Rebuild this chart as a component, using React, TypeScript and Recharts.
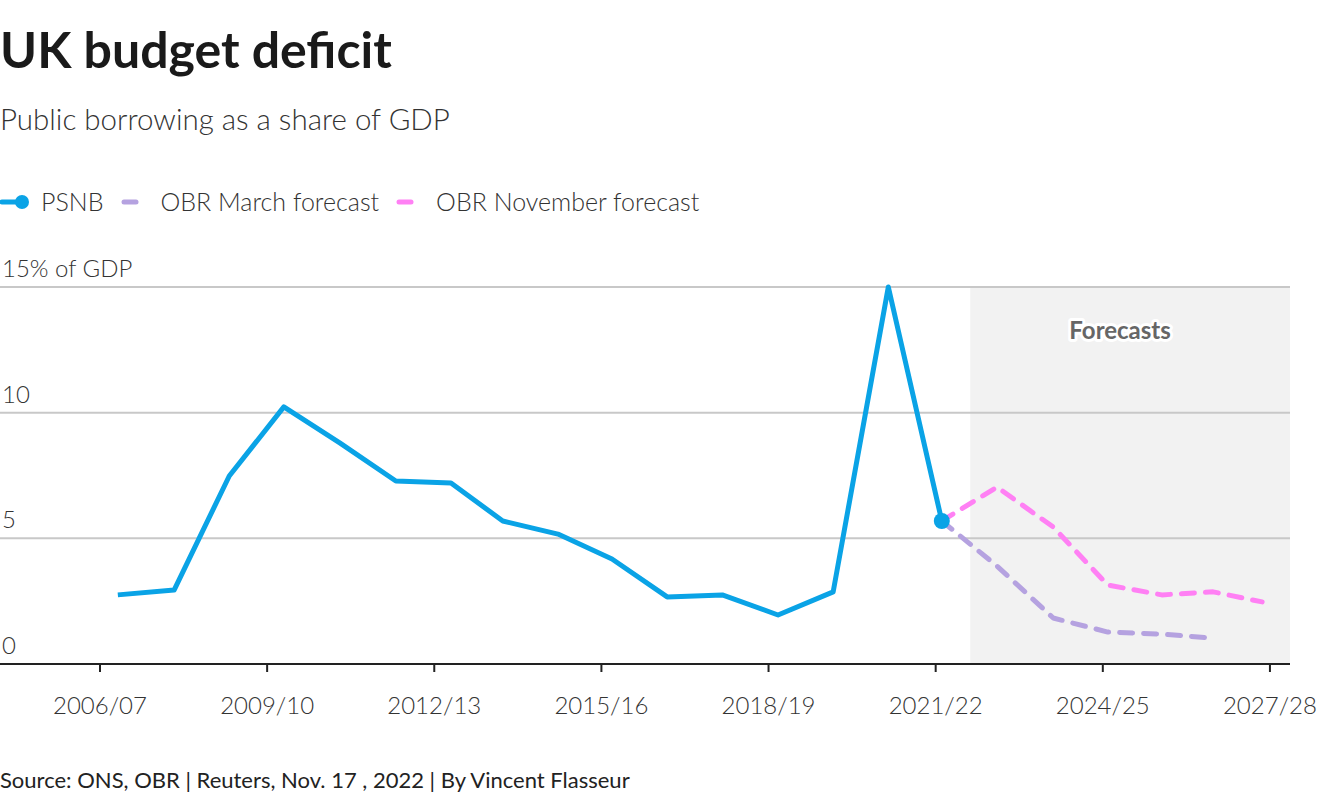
import React from 'react';
import { LineChart, Line, XAxis, YAxis, ReferenceArea, ReferenceLine } from 'recharts';

// x positions are fractional fiscal years (tick "2006/07" sits at 2006)
const psnbX = [2006.32, 2007.33, 2008.32, 2009.3, 2010.31, 2011.31, 2012.3, 2013.23, 2014.22, 2015.19, 2016.18, 2017.17, 2018.17, 2019.16, 2020.15, 2021.11];
const psnbValues = [2.75, 2.94, 7.48, 10.23, 8.79, 7.28, 7.2, 5.69, 5.17, 4.18, 2.67, 2.75, 1.95, 2.87, 15.0, 5.69];

const forecastX = [2021.11, 2022.1, 2023.11, 2024.09, 2025.06, 2025.98, 2026.86];
const marchValues = [5.69, 3.9, 1.83, 1.27, 1.19, 1.03];
const novemberValues = [5.69, 7.04, 5.45, 3.14, 2.75, 2.87, 2.47];

const tickYears = [2006, 2009, 2012, 2015, 2018, 2021, 2024, 2027];
const tickLabels = ['2006/07', '2009/10', '2012/13', '2015/16', '2018/19', '2021/22', '2024/25', '2027/28'];
const gridValues = [0, 5, 10, 15];
const gridLabels = ['0', '5', '10', '15% of GDP'];

const forecastStart = 2021.62;

const BLUE = '#0aa3e6';
const LAVENDER = '#b5a2e0';
const PINK = '#ff80f4';
const FONT = 'Lato, "Noto Sans", sans-serif';

const psnbData = psnbX.map((x, i) => ({ x, v: psnbValues[i] }));
const marchData = marchValues.map((v, i) => ({ x: forecastX[i], v }));
const novemberData = novemberValues.map((v, i) => ({ x: forecastX[i], v }));

const GridLabel = (props: any) => {
  const vb = props.viewBox;
  if (!vb) return null;
  return (
    <text x={2} y={vb.y - 10} fontSize={24} fill="#333" fontFamily={FONT} fontWeight={300}>
      {props.value}
    </text>
  );
};

const LastDot = (props: any) => {
  if (props.index !== psnbData.length - 1) return <g key={props.index} />;
  return <circle key={props.index} cx={props.cx} cy={props.cy} r={8} fill={BLUE} />;
};

const ForecastLabel = (props: any) => {
  const vb = props.viewBox;
  if (!vb) return null;
  return (
    <text
      x={vb.x + vb.width / 2 - 10}
      y={vb.y + 42}
      textAnchor="middle"
      dominantBaseline="central"
      fontSize={24}
      fontWeight={700}
      fill="#666"
      stroke="#fff"
      strokeWidth={6}
      strokeLinejoin="round"
      paintOrder="stroke"
      fontFamily={FONT}
    >
      Forecasts
    </text>
  );
};

const Swatch = ({ color }: { color: string }) => (
  <svg width={18} height={10} style={{ marginRight: 22 }}>
    <line x1={3} y1={5} x2={15} y2={5} stroke={color} strokeWidth={5} strokeLinecap="round" />
  </svg>
);

export default function App() {
  return (
    <div style={{ position: 'absolute', top: 0, left: 0, width: 1320, height: 800, background: '#fff', fontFamily: FONT, color: '#222' }}>
      <div style={{ position: 'absolute', top: 24, left: 0, fontSize: 50, fontWeight: 700, lineHeight: 1, color: '#1a1a1a' }}>
        UK budget deficit
      </div>
      <div style={{ position: 'absolute', top: 104, left: 0, fontSize: 29.5, fontWeight: 300, lineHeight: 1, color: '#333' }}>
        Public borrowing as a share of GDP
      </div>

      <div style={{ position: 'absolute', top: 189, left: 0, display: 'flex', alignItems: 'center', fontSize: 25, fontWeight: 300, lineHeight: 1, color: '#333' }}>
        <svg width={30} height={20} style={{ marginRight: 11 }}>
          <line x1={2} y1={10} x2={22} y2={10} stroke={BLUE} strokeWidth={5} strokeLinecap="round" />
          <circle cx={22} cy={10} r={7} fill={BLUE} />
        </svg>
        <span style={{ marginRight: 17 }}>PSNB</span>
        <Swatch color={LAVENDER} />
        <span style={{ marginRight: 17 }}>OBR March forecast</span>
        <Swatch color={PINK} />
        <span>OBR November forecast</span>
      </div>

      <div style={{ position: 'absolute', top: 240, left: 0 }}>
        <LineChart width={1320} height={484} margin={{ top: 47, right: 30, left: 0, bottom: 0 }}>
          <XAxis
            dataKey="x"
            type="number"
            domain={[2004.205, 2027.36]}
            allowDataOverflow
            ticks={tickYears}
            tickFormatter={(t: number) => tickLabels[tickYears.indexOf(t)]}
            height={60}
            axisLine={{ stroke: '#222', strokeWidth: 2 }}
            tickLine={{ stroke: '#222', strokeWidth: 2 }}
            tickSize={8}
            tickMargin={25}
            tick={{ fill: '#333', fontSize: 24, fontFamily: FONT, fontWeight: 300 }}
          />
          <YAxis type="number" domain={[0, 15]} hide />
          <ReferenceArea x1={forecastStart} x2={2027.36} y1={0} y2={15} fill="#f2f2f2" fillOpacity={1} stroke="none" label={<ForecastLabel />} />
          {gridValues.map((g, i) => (
            <ReferenceLine
              key={g}
              y={g}
              stroke={g === 0 ? 'none' : '#c8c8c8'}
              strokeWidth={2}
              label={<GridLabel value={gridLabels[i]} />}
            />
          ))}
          <Line data={marchData} dataKey="v" type="linear" stroke={LAVENDER} strokeWidth={5} strokeDasharray="13 11" strokeLinecap="round" strokeLinejoin="round" dot={false} isAnimationActive={false} />
          <Line data={novemberData} dataKey="v" type="linear" stroke={PINK} strokeWidth={5} strokeDasharray="13 11" strokeLinecap="round" strokeLinejoin="round" dot={false} isAnimationActive={false} />
          <Line data={psnbData} dataKey="v" type="linear" stroke={BLUE} strokeWidth={5} strokeLinejoin="round" dot={<LastDot />} activeDot={false} isAnimationActive={false} />
        </LineChart>
      </div>

      <div style={{ position: 'absolute', top: 769, left: 0, fontSize: 22, fontWeight: 400, lineHeight: 1, color: '#222' }}>
        Source: ONS, OBR | Reuters, Nov. 17 , 2022 | By Vincent Flasseur
      </div>
    </div>
  );
}
